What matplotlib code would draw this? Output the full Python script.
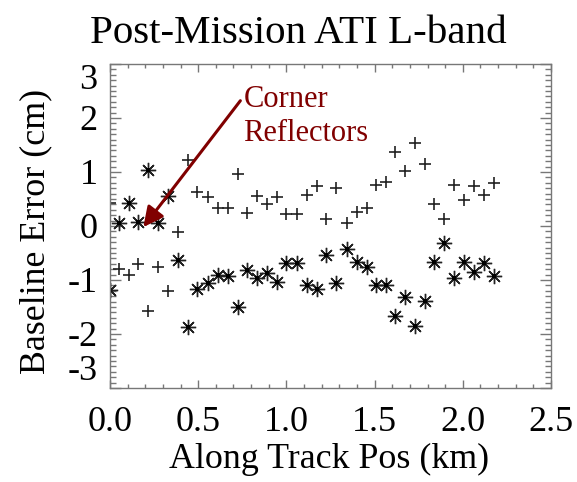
import matplotlib
matplotlib.use("Agg")
import matplotlib.pyplot as plt
from matplotlib.ticker import MultipleLocator, FormatStrFormatter

plt.rcParams['font.family'] = ['Liberation Serif', 'DejaVu Serif']
plt.rcParams['axes.unicode_minus'] = False

# along-track position (km) of each baseline estimate
pos_km = [0.000, 0.051, 0.105, 0.159, 0.216, 0.273, 0.330, 0.386, 0.440, 0.494,
          0.557, 0.611, 0.670, 0.724, 0.778, 0.835, 0.889, 0.946, 1.000, 1.060,
          1.116, 1.173, 1.227, 1.284, 1.341, 1.398, 1.455, 1.506, 1.563, 1.614,
          1.670, 1.727, 1.784, 1.838, 1.895, 1.949, 2.006, 2.063, 2.119, 2.176]

# baseline error (cm), '+' series
err_plus = [0.42, -0.80, -0.91, -0.70, -1.58, -0.76, -1.20, -0.12, 1.22, 0.63,
            0.54, 0.33, 0.34, 0.97, 0.24, 0.56, 0.41, 0.54, 0.22, 0.22,
            0.57, 0.74, 0.13, 0.71, 0.05, 0.26, 0.33, 0.76, 0.82, 1.37,
            1.01, 1.53, 1.14, 0.41, 0.13, 0.76, 0.49, 0.74, 0.57, 0.80]

# baseline error (cm), '*' series
err_star = [-1.19, 0.06, 0.42, 0.08, 1.03, 0.05, 0.55, -0.63, -1.87, -1.17,
            -1.06, -0.91, -0.92, -1.50, -0.81, -0.96, -0.87, -1.03, -0.69, -0.69,
            -1.09, -1.16, -0.53, -1.06, -0.43, -0.67, -0.75, -1.10, -1.10, -1.67,
            -1.32, -1.85, -1.38, -0.66, -0.31, -0.96, -0.66, -0.85, -0.69, -0.92]

# corner reflector arrow: tip and tail in data units
cr_tip = (0.189, -0.02)
cr_tail = (0.739, 2.32)

W, H = 577, 482
fig = plt.figure(figsize=(W / 100, H / 100), dpi=100)
ax = fig.add_axes([110 / W, 1 - 388 / H, 441 / W, 324 / H])

ink = '#222222'
ax.plot(pos_km, err_plus, linestyle='none', marker='+', markersize=8.5,
        markeredgewidth=1.2, color=ink)
ax.plot(pos_km, err_star, linestyle='none', marker=(8, 2, 0), markersize=11,
        markeredgewidth=1.0, color=ink)
# dark centre of each asterisk
ax.plot(pos_km, err_star, linestyle='none', marker='s', markersize=2.2,
        markeredgewidth=0, color='black')

ax.set_xlim(0, 2.5)
ax.set_ylim(-3, 3)
ax.xaxis.set_major_locator(MultipleLocator(0.5))
ax.xaxis.set_minor_locator(MultipleLocator(0.1))
ax.yaxis.set_major_locator(MultipleLocator(1))
ax.yaxis.set_minor_locator(MultipleLocator(0.1))
ax.xaxis.set_major_formatter(FormatStrFormatter('%.1f'))
ax.yaxis.set_major_formatter(FormatStrFormatter('%d'))

axis_col = '#777777'
for sp in ax.spines.values():
    sp.set_color(axis_col)
    sp.set_linewidth(1.0)
ax.tick_params(which='both', direction='in', top=True, right=True,
               color=axis_col, width=1.0)
ax.tick_params(axis='x', which='major', length=6, pad=13, labelsize=26)
ax.tick_params(axis='x', which='minor', length=3)
ax.tick_params(axis='y', which='major', length=8, pad=9, labelsize=26)
ax.tick_params(axis='y', which='minor', length=4)

# end labels of the y axis sit a little inside the frame
fig.canvas.draw()
for lbl in ax.get_yticklabels():
    if lbl.get_text() == '3':
        lbl.set_va('top')
    elif lbl.get_text() == '-3':
        lbl.set_va('bottom')

red = '#800000'
ax.annotate('', xy=cr_tip, xytext=cr_tail,
            arrowprops=dict(arrowstyle='-|>', color=red, lw=2.2,
                            mutation_scale=30, shrinkA=0, shrinkB=0))
ax.text(0.756, 2.03, 'Corner\nReflectors', color=red, fontsize=22,
        ha='left', va='center', linespacing=1.25)

fig.text(298.5 / W, 1 - 43 / H, 'Post-Mission ATI L-band', fontsize=29.5,
         ha='center', va='baseline')
fig.text(329 / W, 1 - 468 / H, 'Along Track Pos (km)', fontsize=25.8,
         ha='center', va='baseline')
fig.text(44 / W, 1 - 231 / H, 'Baseline Error (cm)', fontsize=25.8,
         ha='center', va='baseline', rotation=90, rotation_mode='anchor')

fig.savefig('out.png', dpi=100)
